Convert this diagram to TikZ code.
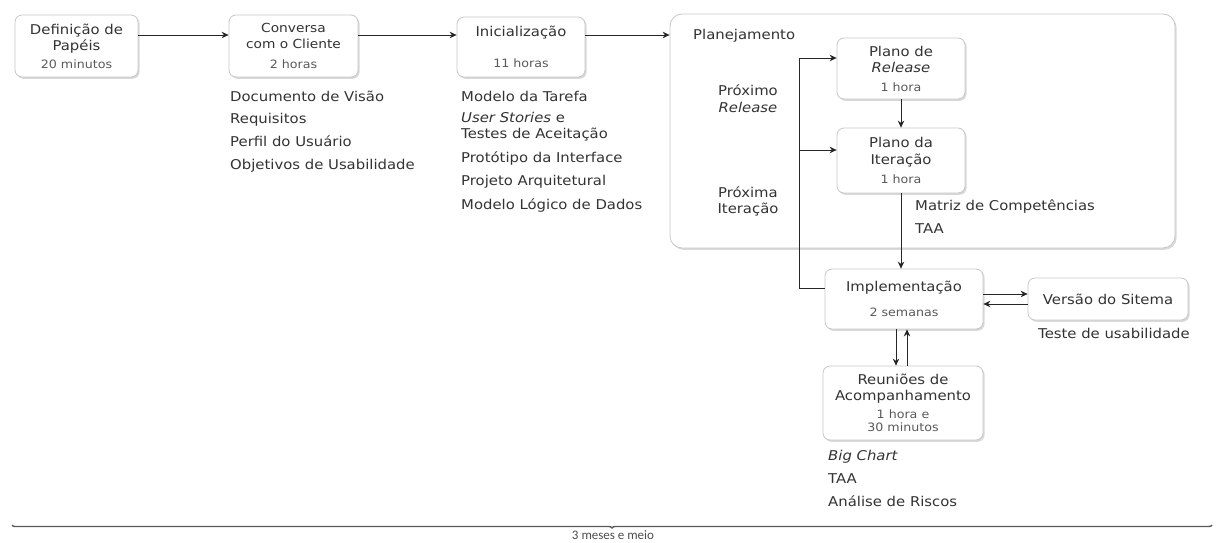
\documentclass[tikz,border=0pt]{standalone}
\usepackage{fontspec}
\setmainfont{DejaVu Sans}[FakeStretch=1.1]
\newfontfamily\legenda{Carlito}
\usetikzlibrary{arrows.meta,shadows,decorations.pathreplacing}
\newcommand{\duracao}{\fontsize{11.5}{14}\selectfont\color{black!65}}

\begin{document}
\begin{tikzpicture}[x=1pt, y=-1pt, >={Stealth[length=7pt, width=6.5pt]},
		every node/.append style={font=\fontsize{13.5}{16.5}\selectfont},
		etapa/.style={draw=black!22, line width=0.8pt, fill=white, rounded corners=7pt, align=center, text=black!80, inner sep=2pt,
			drop shadow={shadow xshift=1.6pt, shadow yshift=-1.8pt, opacity=0.3}},
		nota/.style={anchor=base west, align=left, text=black!80, inner sep=0pt},
		seta/.style={->, draw=black!85, line width=0.8pt}]
	\useasboundingbox (0,0) rectangle (1216,543);
	% planejamento
	\node[etapa, rounded corners=12pt, minimum width=505pt, minimum height=234pt] (plan) at (922.5,131) {};
	\node[nota] (planTit) at (693,40) {Planejamento};
	\node[align=center, text=black!80] (proxRel) at (748,98.5) {Próximo\\\textit{Release}};
	\node[align=center, text=black!80] (proxIte) at (748,201.5) {Próxima\\Iteração};
	% etapas
	\node[etapa, minimum width=123pt, minimum height=62pt] (def) at (76.5,46) {Definição de\\Papéis\\[1pt]{\duracao 20 minutos}};
	\node[etapa, minimum width=129pt, minimum height=62pt, font=\fontsize{12.5}{16}\selectfont] (conv) at (293.5,46) {Conversa\\com o Cliente\\[4pt]{\duracao 2 horas}};
	\node[etapa, minimum width=128pt, minimum height=60pt] (ini) at (521,47) {Inicialização\\[15pt]{\duracao 11 horas}};
	\node[etapa, minimum width=128pt, minimum height=61pt] (rel) at (901,68.5) {Plano de\\\textit{Release}\\[2pt]{\duracao 1 hora}};
	\node[etapa, minimum width=128pt, minimum height=65pt] (ite) at (901,160.5) {Plano da\\Iteração\\[3pt]{\duracao 1 hora}};
	\node[etapa, minimum width=158pt, minimum height=60pt] (impl) at (904,299) {Implementação\\[8pt]{\duracao 2 semanas}};
	\node[etapa, minimum width=160pt, minimum height=42pt] (ver) at (1108,299) {Versão do Sitema};
	\node[etapa, minimum width=160pt, minimum height=74pt] (reu) at (903,403) {Reuniões de\\Acompanhamento\\[1pt]{\duracao 1 hora e}\\[-3pt]{\duracao 30 minutos}};
	% artefatos
	\foreach \y / \txt in {101/Documento de Visão, 123/Requisitos, 146/Perfil do Usuário, 169/Objetivos de Usabilidade} {
		\node[nota] (convArt\y) at (230,\y) {\txt};
	}
	\foreach \y / \txt in {101/Modelo da Tarefa, 122/{\textit{User Stories} e}, 139/Testes de Aceitação, 162/Protótipo da Interface, 185/Projeto Arquitetural, 209/Modelo Lógico de Dados} {
		\node[nota] (iniArt\y) at (461,\y) {\txt};
	}
	\foreach \y / \txt in {210/Matriz de Competências, 233/TAA} {
		\node[nota] (iteArt\y) at (915,\y) {\txt};
	}
	\node[nota] (verArt) at (1038,338) {Teste de usabilidade};
	\foreach \y / \txt in {460/\textit{Big Chart}, 483/TAA, 506/Análise de Riscos} {
		\node[nota] (reuArt\y) at (828,\y) {\txt};
	}
	% fluxo
	\draw[seta] ([yshift=11pt]def.east) -- ([yshift=11pt]conv.west);
	\draw[seta] ([yshift=11pt]conv.east) -- ([yshift=11pt]conv.east -| ini.west);
	\draw[seta] ([yshift=12pt]ini.east) -- ([yshift=12pt]ini.east -| plan.west);
	\draw[seta] (rel.south) -- (ite.north);
	\draw[seta] (ite.south) -- (ite.south |- impl.north);
	\coordinate (voltaA) at (799,58);
	\coordinate (voltaB) at (799,150);
	\draw[seta] ([yshift=11pt]impl.west) -| (voltaA) -- (voltaA -| rel.west);
	\draw[seta] (voltaB) -- (voltaB -| ite.west);
	\draw[seta] ([yshift=5pt]impl.east) -- ([yshift=5pt]impl.east -| ver.west);
	\draw[seta] ([yshift=-5pt]ver.west) -- ([yshift=-5pt]ver.west -| impl.east);
	\draw[seta] ([xshift=-8pt]impl.south) -- ([xshift=-8pt]impl.south |- reu.north);
	\draw[seta] ([xshift=4pt]reu.north) -- ([xshift=4pt]reu.north |- impl.south);
	% tempo total
	\coordinate (inicio) at (12,525);
	\coordinate (fim) at (1212,525);
	\draw[black!65, line width=1.4pt, decorate, decoration={brace, amplitude=3pt, mirror}] (inicio) -- (fim);
	\node[font=\legenda\fontsize{13}{15}\selectfont, text=black!70, anchor=north, inner sep=0pt] (tempo) at (613,530) {3 meses e meio};
\end{tikzpicture}
\end{document}
